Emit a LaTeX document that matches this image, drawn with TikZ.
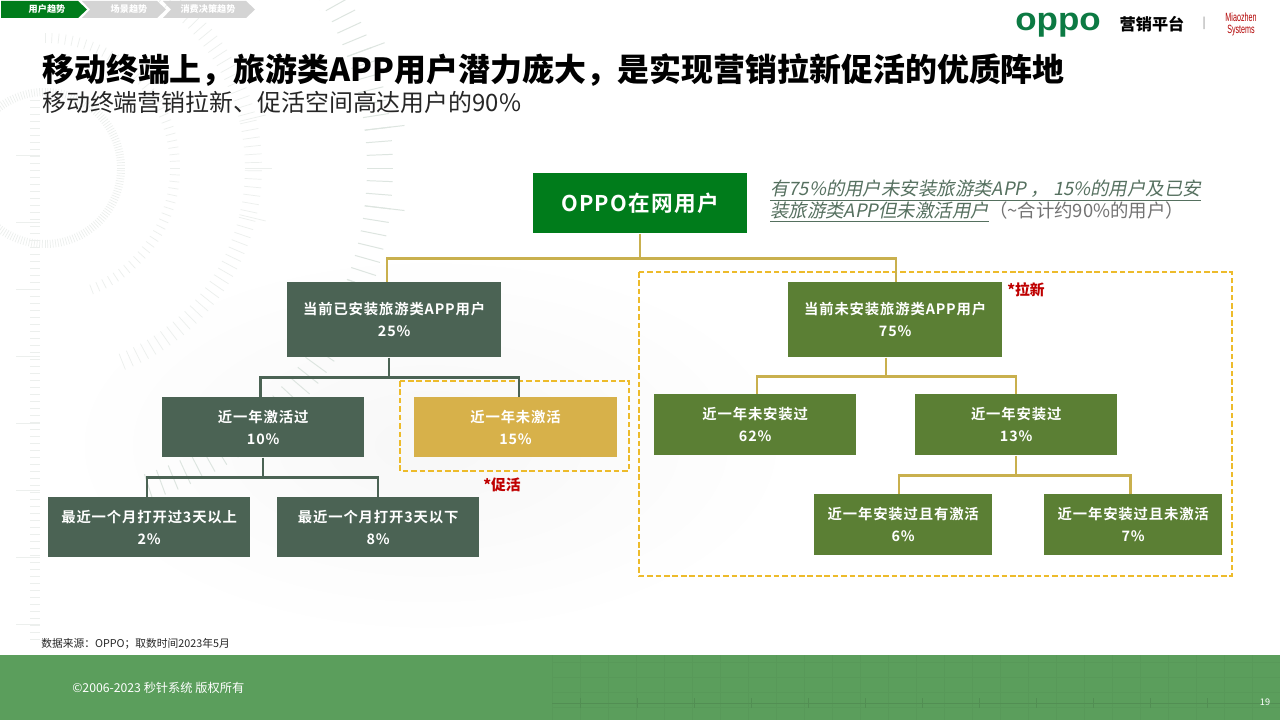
\documentclass[tikz,border=0pt]{standalone}
\usepackage{fontspec}
\setmainfont{Noto Sans CJK SC}
\newfontfamily\boxfont[LetterSpace=6,BoldFont={Noto Sans CJK SC Bold}]{Noto Sans CJK SC}
\newfontfamily\slantfont[FakeSlant=0.2]{Noto Sans CJK SC}
\newfontfamily\logofont{Liberation Sans}
\usetikzlibrary{positioning,calc}

\definecolor{oppogreen}{HTML}{007C1B}
\definecolor{logogreen}{HTML}{0C7A43}
\definecolor{darkbox}{HTML}{4B6354}
\definecolor{olivebox}{HTML}{5B7F34}
\definecolor{goldbox}{HTML}{D7B14A}
\definecolor{goldline}{HTML}{C9B04E}
\definecolor{dashgold}{HTML}{EDBB2B}
\definecolor{footgreen}{HTML}{5B9E5C}
\definecolor{notegreen}{HTML}{55705F}
\definecolor{ringdark}{HTML}{DDE5E0}
\definecolor{ringpale}{HTML}{ECEFED}

\tikzset{
	pctbox/.style={anchor=north west, inner sep=0pt, align=center, text=white, font=\boxfont\bfseries\fontsize{10.2}{15.5}\selectfont},
	linkgold/.style={goldline, line width=1.7pt},
	linkdark/.style={darkbox, line width=1.7pt},
	dashframe/.style={dashgold, line width=1pt, dashed, dash pattern=on 4pt off 2pt},
	crumb/.style={inner sep=0pt, font=\bfseries\fontsize{6.5}{7}\selectfont},
	tickmark/.style={ringpale, line width=0.5pt},
	footmark/.style={black!10!footgreen, line width=0.5pt}
}

\begin{document}
\begin{tikzpicture}[x=0.025cm,y=-0.025cm]
	\useasboundingbox (0,0) rectangle (1280,720);
	\fill[white] (0,0) rectangle (1280,720);

	% Background
	\shade[inner color=black!3, outer color=white] (60,250) rectangle (800,640);
	\foreach \a in {-180,-178,...,178} {
		\draw[tickmark] (45,168) ++(\a:72) -- ++(\a:8);
	}
	\foreach \a in {-90,-87,...,70} {
		\draw[tickmark] (45,168) ++(\a:125) -- ++(\a:10);
	}
	\foreach \a in {-60,-57.75,...,70} {
		\draw[tickmark] (45,168) ++(\a:200) -- ++(\a:17);
	}
	\foreach \a in {-13.5,0,13.5} {
		\draw[tickmark] (45,168) ++(\a:200) -- ++(\a:27);
	}
	\foreach \a in {-33.75,-31.5,...,72} {
		\draw[ringdark, line width=0.7pt] (45,168) ++(\a:322) -- ++(\a:26);
	}
	\foreach \a in {-20.25,-6.75,6.75,20.25} {
		\draw[ringdark, line width=0.7pt] (45,168) ++(\a:322) -- ++(\a:40);
	}
	\foreach \y in {100,107,...,640} {
		\draw[tickmark] (30,\y) -- (40,\y);
	}
	\foreach \y in {155,222,...,624} {
		\draw[tickmark] (16,\y) -- (40,\y);
	}

	% Breadcrumb
	\fill[black!17] (163,1) -- (246,1) -- (255,9.5) -- (246,18) -- (163,18) -- (171,9.5) -- cycle;
	\fill[black!17] (82,1) -- (157,1) -- (166,9.5) -- (157,18) -- (82,18) -- (90,9.5) -- cycle;
	\fill[oppogreen] (1,1) -- (78,1) -- (87,9.5) -- (78,18) -- (1,18) -- cycle;
	\node[crumb, text=white] (crumbuser) at (47,9) {用户趋势};
	\node[crumb, text=white] (crumbscene) at (129,9) {场景趋势};
	\node[crumb, text=white] (crumbspend) at (208,9) {消费决策趋势};

	% Logos
	\node[inner sep=0pt, text=logogreen, xscale=1.08] (oppologo) at (1058,25) {\logofont\bfseries\fontsize{23}{23}\selectfont oppo};
	\node[inner sep=0pt, font=\bfseries\fontsize{11.5}{12}\selectfont] (platform) at (1152,24) {营销平台};
	\node[inner sep=0pt, text=black!50, font=\fontsize{8}{8}\selectfont] (logobar) at (1204,23) {|};
	\node[inner sep=0pt, text=red!70!black, align=center, xscale=0.6, font=\logofont\fontsize{8.5}{8.5}\selectfont] (mzlogo) at (1241,24) {Miaozhen\\Systems};

	% Title
	\node[anchor=west, inner sep=0pt, font=\bfseries\fontsize{22.7}{26}\selectfont] (title) at (42,70) {移动终端上，旅游类APP用户潜力庞大，是实现营销拉新促活的优质阵地};
	\node[anchor=west, inner sep=0pt, font=\fontsize{17}{20}\selectfont, text=black!85] (subtitle) at (42,102) {移动终端营销拉新、促活空间高达用户的90\%};

	% Dashed frames
	\draw[dashframe] (639,272) rectangle (1232,576);
	\draw[dashframe] (400,381) rectangle (629,471);

	% Boxes
	\node[pctbox, fill=oppogreen, minimum width=152pt, minimum height=42.7pt, font=\boxfont\bfseries\fontsize{15.4}{16}\selectfont] (root) at (533,173) {OPPO在网用户};
	\node[pctbox, fill=darkbox, minimum width=152pt, minimum height=53.3pt] (usedapp) at (287,282) {当前已安装旅游类APP用户\\25\%};
	\node[pctbox, fill=olivebox, minimum width=152pt, minimum height=53.3pt] (noapp) at (788,282) {当前未安装旅游类APP用户\\75\%};
	\node[pctbox, fill=darkbox, minimum width=143.5pt, minimum height=42.7pt] (active) at (162,397) {近一年激活过\\10\%};
	\node[pctbox, fill=goldbox, minimum width=144pt, minimum height=42.7pt] (inactive) at (414,397) {近一年未激活\\15\%};
	\node[pctbox, fill=darkbox, minimum width=143.5pt, minimum height=42.7pt] (overthree) at (48,497) {最近一个月打开过3天以上\\2\%};
	\node[pctbox, fill=darkbox, minimum width=143.5pt, minimum height=42.7pt] (underthree) at (277,497) {最近一个月打开3天以下\\8\%};
	\node[pctbox, fill=olivebox, minimum width=143.5pt, minimum height=43.4pt] (notinstalled) at (654,394) {近一年未安装过\\62\%};
	\node[pctbox, fill=olivebox, minimum width=143.5pt, minimum height=43.4pt] (installed) at (915,394) {近一年安装过\\13\%};
	\node[pctbox, fill=olivebox, minimum width=126.5pt, minimum height=43.4pt] (yesactive) at (814,494) {近一年安装过且有激活\\6\%};
	\node[pctbox, fill=olivebox, minimum width=126.5pt, minimum height=43.4pt] (noactive) at (1044,494) {近一年安装过且未激活\\7\%};

	% Connectors
	\draw[linkgold] (root.south) -- ++(0,25) coordinate (rootbus) -| ([xshift=-5pt]usedapp.north);
	\draw[linkgold] (rootbus) -| ([xshift=0.7pt]noapp.north);
	\draw[linkdark] ([xshift=-3.5pt]usedapp.south) -- ++(0,20) coordinate (usedbus) -| ([xshift=-1.8pt]active.north);
	\draw[linkdark] (usedbus) -| ([xshift=2.5pt]inactive.north);
	\draw[linkdark] (active.south) -- ++(0,20) coordinate (activebus) -| ([xshift=-1.4pt]overthree.north);
	\draw[linkdark] (activebus) -| (underthree.north);
	\draw[linkgold] ([xshift=-6.4pt]noapp.south) -- ++(0,19) coordinate (noappbus) -| ([xshift=1.4pt]notinstalled.north);
	\draw[linkgold] (noappbus) -| (installed.north);
	\draw[linkgold] (installed.south) -- ++(0,20) coordinate (installbus) -| ([xshift=-3pt]yesactive.north);
	\draw[linkgold] (installbus) -| ([xshift=-2pt]noactive.north);

	% Labels
	\node[inner sep=0pt, text=red!75!black, font=\bfseries\fontsize{10.5}{12}\selectfont] (newtag) at (1026,290) {*拉新};
	\node[inner sep=0pt, text=red!75!black, font=\bfseries\fontsize{10.5}{12}\selectfont] (activetag) at (502,485) {*促活};
	\node[anchor=north west, inner sep=0pt, align=left, text=notegreen, font=\fontsize{13.1}{15.6}\selectfont] (note) at (770,180) {{\slantfont\underline{有75\%的用户未安装旅游类APP ， 15\%的用户及已安}}\\{\slantfont\underline{装旅游类APP但未激活用户}}\textcolor{black!55}{（\string~合计约90\%的用户）}};

	% Footer
	\node[anchor=west, inner sep=0pt, font=\fontsize{7.65}{9}\selectfont, text=black!85] (source) at (41,644) {数据来源：OPPO；取数时间2023年5月};
	\fill[footgreen] (0,655) rectangle (1280,720);
	\foreach \x in {552,580,...,1280} {
		\draw[black!3!footgreen, line width=0.3pt] (\x,655) -- (\x,720);
	}
	\foreach \y in {662,677,...,715} {
		\draw[black!3!footgreen, line width=0.3pt] (552,\y) -- (1280,\y);
	}
	\foreach \x in {580,637,...,1210} {
		\draw[footmark] (\x,703) ++(-5,0) -- ++(10,0) (\x,698) -- (\x,708);
	}
	\draw[footmark] (552,703) -- (1280,703);
	\node[anchor=west, inner sep=0pt, text=white, font=\fontsize{8.7}{10}\selectfont] (copyright) at (72,688) {©2006-2023 秒针系统 版权所有};
	\node[inner sep=0pt, text=white, font=\fontsize{6.5}{8}\selectfont] (pagenum) at (1265,702) {19};
\end{tikzpicture}
\end{document}
